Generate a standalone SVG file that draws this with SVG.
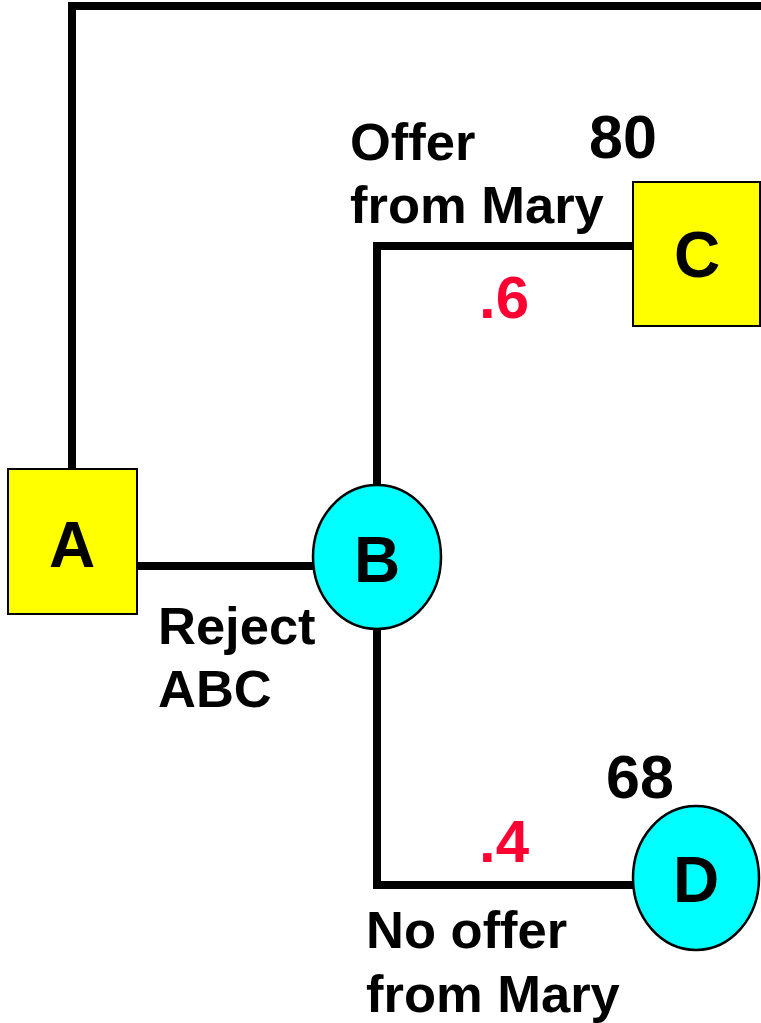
<svg xmlns="http://www.w3.org/2000/svg" width="761" height="1023" viewBox="0 0 761 1023">
<style>
.ln{fill:none;stroke:#000;stroke-width:8}
.sq{fill:#FFFF00;stroke:#000;stroke-width:2}
.ci{fill:#00FFFF;stroke:#000;stroke-width:2.5}
.nl{font-family:"Liberation Sans",Arial,sans-serif;font-weight:bold;font-size:64px;fill:#000;text-anchor:middle}
.lb{font-family:"Liberation Sans",Arial,sans-serif;font-weight:bold;font-size:52.5px;fill:#000}
.nm{font-family:"Liberation Sans",Arial,sans-serif;font-weight:bold;font-size:61px;fill:#000;text-anchor:middle}
.pr{font-family:"Liberation Sans",Arial,sans-serif;font-weight:bold;font-size:60px;fill:#FF0033;text-anchor:middle}
</style>
<rect width="761" height="1023" fill="#fff"/>
<g id="connectors">
<polyline class="ln" points="72,469 72,6 761,6"/>
<line class="ln" x1="134" y1="566" x2="314" y2="566"/>
<polyline class="ln" points="377,488 377,246 633,246"/>
<polyline class="ln" points="377,628 377,885 633,885"/>
</g>
<g id="node-A">
<rect class="sq" x="8" y="469" width="129" height="145"/>
<text class="nl" x="72" y="567">A</text>
</g>
<g id="node-B">
<ellipse class="ci" cx="377" cy="557" rx="64" ry="72"/>
<text class="nl" x="377" y="582">B</text>
</g>
<g id="node-C">
<rect class="sq" x="633" y="182" width="127" height="144"/>
<text class="nl" x="697" y="277">C</text>
</g>
<g id="node-D">
<ellipse class="ci" cx="696" cy="878" rx="63" ry="72"/>
<text class="nl" x="696" y="902">D</text>
</g>
<g id="labels">
<text class="lb" x="158" y="644">Reject</text>
<text class="lb" x="158" y="707">ABC</text>
<text class="lb" x="350" y="160">Offer</text>
<text class="lb" x="350" y="223">from Mary</text>
<text class="lb" x="366" y="948">No offer</text>
<text class="lb" x="366" y="1012">from Mary</text>
<text class="nm" x="623" y="158">80</text>
<text class="nm" x="640" y="798">68</text>
<text class="pr" x="504" y="318">.6</text>
<text class="pr" x="504" y="862">.4</text>
</g>
</svg>
